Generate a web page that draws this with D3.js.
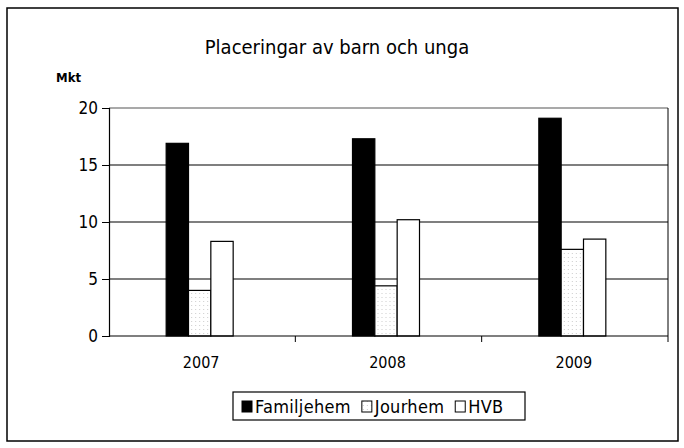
<!DOCTYPE html>
<html>
<head>
<meta charset="utf-8">
<title>Placeringar av barn och unga</title>
<script src="https://cdn.jsdelivr.net/npm/d3@7"></script>
<style>
body { margin: 0; background: #fff; }
text { font-family: "DejaVu Sans Condensed", "DejaVu Sans", sans-serif; font-stretch: condensed; fill: #000; }
</style>
</head>
<body>
<script>
// data
var years = ["2007", "2008", "2009"];
var series = ["Familjehem", "Jourhem", "HVB"];
var familjehem = [16.9, 17.3, 19.1];
var jourhem = [4.0, 4.4, 7.6];
var hvb = [8.3, 10.2, 8.5];
var yTicks = [0, 5, 10, 15, 20];

var values = [familjehem, jourhem, hvb];

var width = 684, height = 448;
var svg = d3.select("body").append("svg")
  .attr("width", width)
  .attr("height", height);

// stipple for Jourhem
var defs = svg.append("defs");
var pat = defs.append("pattern")
  .attr("id", "dots")
  .attr("width", 4).attr("height", 4)
  .attr("patternUnits", "userSpaceOnUse");
pat.append("rect").attr("width", 4).attr("height", 4).attr("fill", "#fff");
pat.append("rect").attr("x", 1).attr("y", 1).attr("width", 1).attr("height", 1).attr("fill", "#ccc");

var fills = ["#000", "url(#dots)", "#fff"];

// outer frame
svg.append("rect")
  .attr("x", 7).attr("y", 8)
  .attr("width", 671).attr("height", 433)
  .attr("fill", "#fff")
  .attr("stroke", "#000")
  .attr("stroke-width", 1.5);

svg.append("text")
  .attr("x", 337).attr("y", 54)
  .attr("text-anchor", "middle")
  .style("font-size", "20px")
  .text("Placeringar av barn och unga");

svg.append("text")
  .attr("x", 56).attr("y", 82)
  .style("font-size", "13px")
  .style("font-weight", "bold")
  .text("Mkt");

var plotLeft = 109, plotRight = 668, plotTop = 108, plotBottom = 336;

var x = d3.scaleBand().domain(years).range([plotLeft, plotRight]);
var xs = d3.scaleBand().domain(series).range([0, 67]);
var y = d3.scaleLinear().domain([0, 20]).range([plotBottom, plotTop]);

// gridlines
svg.append("g")
  .selectAll("line")
  .data(yTicks.filter(function(d) { return d > 0; }))
  .join("line")
  .attr("x1", plotLeft).attr("x2", plotRight)
  .attr("y1", function(d) { return y(d); })
  .attr("y2", function(d) { return y(d); })
  .attr("stroke", function(d) { return d == 20 ? "#555" : "#000"; })
  .attr("stroke-width", 1.2);

// right edge of plot
svg.append("line")
  .attr("x1", plotRight).attr("x2", plotRight)
  .attr("y1", plotTop).attr("y2", plotBottom)
  .attr("stroke", "#000");

// bars
var groups = svg.append("g")
  .selectAll("g")
  .data(years)
  .join("g")
  .attr("transform", function(d) { return "translate(" + (x(d) + x.bandwidth() / 2 - 36) + ",0)"; });

groups.selectAll("rect")
  .data(function(d, i) { return series.map(function(s, j) { return {s: s, j: j, v: values[j][i]}; }); })
  .join("rect")
  .attr("x", function(d) { return xs(d.s); })
  .attr("y", function(d) { return y(d.v); })
  .attr("width", xs.bandwidth())
  .attr("height", function(d) { return plotBottom - y(d.v); })
  .attr("fill", function(d) { return fills[d.j]; })
  .attr("stroke", "#000")
  .attr("stroke-width", 1.2);

// y axis
var yAxis = svg.append("g")
  .attr("transform", "translate(" + plotLeft + ",0)")
  .call(d3.axisLeft(y).tickValues(yTicks).tickSize(7).tickPadding(4));
yAxis.selectAll("text").style("font-size", "17px");
yAxis.select(".domain").attr("stroke-width", 1.2);

// x axis
var xAxis = svg.append("g")
  .attr("transform", "translate(0," + plotBottom + ")");
xAxis.append("line")
  .attr("x1", plotLeft).attr("x2", plotRight)
  .attr("stroke", "#000").attr("stroke-width", 1.2);
xAxis.selectAll("line.tick")
  .data(years.slice(1).concat(["end"]))
  .join("line")
  .attr("class", "tick")
  .attr("x1", function(d) { return d == "end" ? plotRight : x(d); })
  .attr("x2", function(d) { return d == "end" ? plotRight : x(d); })
  .attr("y1", 0).attr("y2", 6)
  .attr("stroke", "#000");
xAxis.selectAll("text")
  .data(years)
  .join("text")
  .attr("x", function(d) { return x(d) + x.bandwidth() / 2 - 1; })
  .attr("y", 32)
  .attr("text-anchor", "middle")
  .style("font-size", "16px")
  .text(function(d) { return d; });

// legend
var legend = svg.append("g").attr("transform", "translate(233,392)");
legend.append("rect")
  .attr("width", 292).attr("height", 28)
  .attr("fill", "#fff")
  .attr("stroke", "#000")
  .attr("stroke-width", 1.2);
var cx = 9;
series.forEach(function(s, i) {
  var item = legend.append("g").attr("transform", "translate(" + cx + ",0)");
  item.append("rect")
    .attr("x", 0).attr("y", 9)
    .attr("width", 10).attr("height", 11)
    .attr("fill", fills[i])
    .attr("stroke", "#000");
  var t = item.append("text")
    .attr("x", 13).attr("y", 21)
    .style("font-size", "18px")
    .style("letter-spacing", "0.3px")
    .text(s);
  cx += 13 + t.node().getComputedTextLength() + 11;
});
</script>
</body>
</html>
